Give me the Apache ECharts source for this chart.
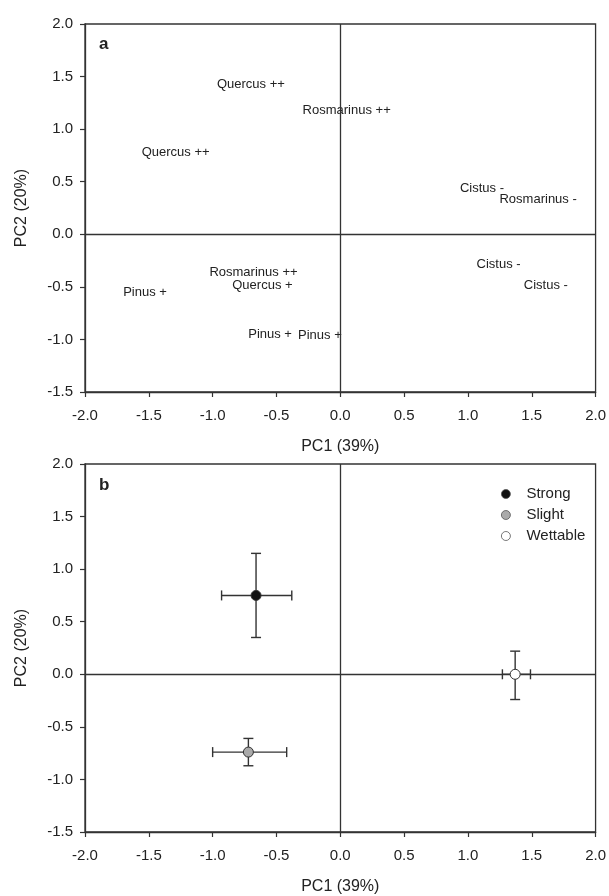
<!DOCTYPE html>
<html>
<head>
<meta charset="utf-8">
<script src="https://cdn.jsdelivr.net/npm/echarts@6/dist/echarts.min.js"></script>
<style>
html,body{margin:0;padding:0;background:#fff;}
#c{width:609px;height:896px;}
</style>
</head>
<body>
<div id="c"></div>
<script>
// ---- Panel a: labelled scores ----
const labelNames = ['Quercus ++','Rosmarinus ++','Quercus ++','Cistus -','Rosmarinus -','Cistus -','Cistus -','Rosmarinus ++','Quercus +','Pinus +','Pinus +','Pinus +'];
const labelPC1 = [-0.70, 0.05, -1.29, 1.11, 1.55, 1.24, 1.61, -0.68, -0.61, -1.53, -0.55, -0.16];
const labelPC2 = [1.43, 1.18, 0.78, 0.44, 0.33, -0.29, -0.49, -0.36, -0.49, -0.55, -0.95, -0.96];

// ---- Panel b: group means with error bars ----
const groups = ['Strong','Slight','Wettable'];
const groupColors = ['#111111','#aaaaaa','#ffffff'];
const pc1Mean = [-0.66, -0.72, 1.37];
const pc2Mean = [0.75, -0.74, 0.00];
const pc1Low  = [-0.93, -1.00, 1.27];
const pc1High = [-0.38, -0.42, 1.49];
const pc2Low  = [0.35, -0.87, -0.24];
const pc2High = [1.15, -0.61, 0.22];

// ---- axis ticks ----
const axisMinX = -2, axisMaxX = 2, axisMinY = -1.5, axisMaxY = 2, tickStep = 0.5;

const FONT = '"Liberation Sans", Arial, sans-serif';
const chart = echarts.init(document.getElementById('c'));

function xAx(gi){
  return {type:'value', gridIndex:gi, min:axisMinX, max:axisMaxX, interval:tickStep,
    name:'PC1 (39%)', nameLocation:'middle', nameGap:47,
    nameTextStyle:{fontSize:16,color:'#222',fontFamily:FONT},
    axisLine:{show:true,onZero:false,lineStyle:{color:'#333',width:1.3}},
    axisTick:{show:true,length:5,lineStyle:{color:'#333',width:1.2}},
    axisLabel:{fontSize:15,color:'#222',margin:16,fontFamily:FONT,formatter:v=>v.toFixed(1)},
    splitLine:{show:false}};
}
function yAx(gi){
  return {type:'value', gridIndex:gi, min:axisMinY, max:axisMaxY, interval:tickStep,
    name:'PC2 (20%)', nameLocation:'middle', nameGap:55,
    nameTextStyle:{fontSize:16,color:'#222',fontFamily:FONT},
    axisLine:{show:true,onZero:false,lineStyle:{color:'#333',width:1.3}},
    axisTick:{show:true,length:5,lineStyle:{color:'#333',width:1.2}},
    axisLabel:{fontSize:15,color:'#222',margin:12,fontFamily:FONT,formatter:v=>v.toFixed(1)},
    splitLine:{show:false}};
}
const zeroLines = {silent:true, symbol:'none', label:{show:false},
  lineStyle:{color:'#333',width:1.3,type:'solid'},
  data:[{xAxis:0},{yAxis:0}]};

const labelData = labelNames.map((n,i)=>[labelPC1[i], labelPC2[i], n]);

const series = [
  {type:'scatter', name:'labels', xAxisIndex:0, yAxisIndex:0, symbolSize:0,
   data:labelData, itemStyle:{opacity:1},
   label:{show:true, position:'inside', formatter:p=>p.value[2], fontSize:13, color:'#222', fontFamily:FONT},
   markLine:zeroLines, z:3},
  {type:'custom', name:'errors', xAxisIndex:1, yAxisIndex:1,
   data: groups.map((g,i)=>[pc1Mean[i], pc2Mean[i], pc1Low[i], pc1High[i], pc2Low[i], pc2High[i]]),
   encode:{x:[0,2,3], y:[1,4,5]},
   renderItem:function(params, api){
     const x=api.value(0), y=api.value(1);
     const l=api.coord([api.value(2), y]), r=api.coord([api.value(3), y]);
     const b=api.coord([x, api.value(4)]), t=api.coord([x, api.value(5)]);
     const cap=5;
     const st={stroke:'#333', lineWidth:1.4};
     const ln=(x1,y1,x2,y2)=>({type:'line', shape:{x1,y1,x2,y2}, style:st});
     return {type:'group', children:[
       ln(l[0],l[1],r[0],r[1]),
       ln(l[0],l[1]-cap,l[0],l[1]+cap),
       ln(r[0],r[1]-cap,r[0],r[1]+cap),
       ln(t[0],t[1],b[0],b[1]),
       ln(t[0]-cap,t[1],t[0]+cap,t[1]),
       ln(b[0]-cap,b[1],b[0]+cap,b[1])
     ]};
   }, z:4, silent:true}
];
groups.forEach((g,i)=>{
  const s = {type:'scatter', name:g, xAxisIndex:1, yAxisIndex:1, symbol:'circle', symbolSize:10,
    data:[[pc1Mean[i], pc2Mean[i]]],
    itemStyle:{color:groupColors[i], borderColor:'#333', borderWidth:1, opacity:1}, z:5};
  if(i===0) s.markLine = zeroLines;
  series.push(s);
});

chart.setOption({
  animation:false,
  backgroundColor:'#fff',
  textStyle:{fontFamily:FONT},
  title:[
    {text:'a', left:94, top:31, textStyle:{fontSize:17,fontWeight:'bold',color:'#222',fontFamily:FONT}},
    {text:'b', left:94, top:472, textStyle:{fontSize:17,fontWeight:'bold',color:'#222',fontFamily:FONT}}
  ],
  grid:[
    {left:85, right:12, top:24, height:368, show:true, borderColor:'#333', borderWidth:1.3, backgroundColor:'transparent'},
    {left:85, right:12, top:464, height:368, show:true, borderColor:'#333', borderWidth:1.3, backgroundColor:'transparent'}
  ],
  xAxis:[xAx(0), xAx(1)],
  yAxis:[yAx(0), yAx(1)],
  legend:{data:groups, orient:'vertical', left:496, top:481, itemWidth:9, itemHeight:9, itemGap:5,
    icon:'circle',
    itemStyle:{borderWidth:0.8, borderColor:'#555'},
    textStyle:{fontSize:15,color:'#222',fontFamily:FONT,padding:[0,0,0,11],lineHeight:16},
    selectedMode:false},
  series:series
});
</script>
</body>
</html>
